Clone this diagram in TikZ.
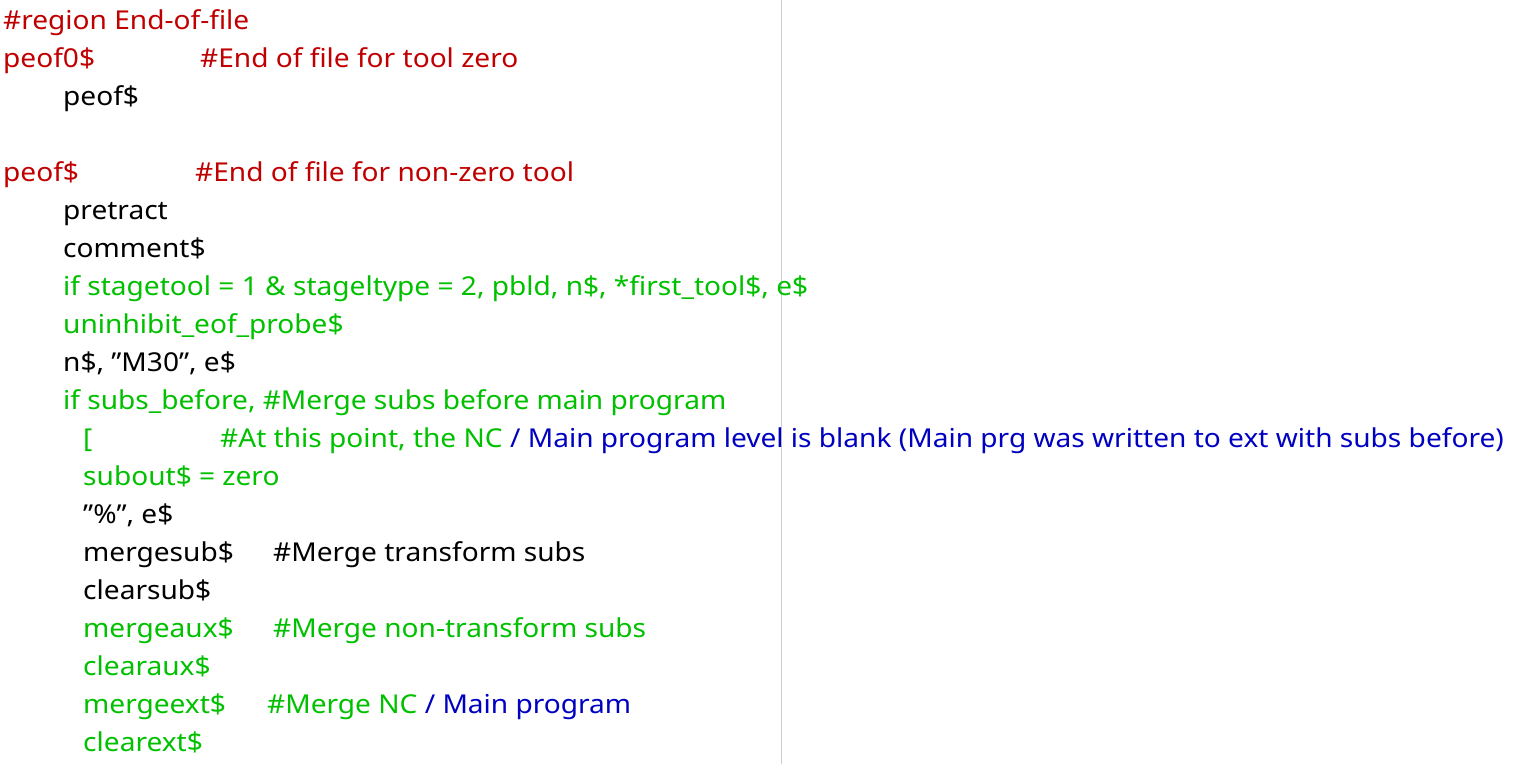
\documentclass[tikz,border=0pt]{standalone}
\usepackage{fontspec}
\setmainfont[FakeStretch=1.08]{Noto Sans}
\definecolor{cred}{RGB}{192,0,0}
\definecolor{cgreen}{RGB}{0,192,0}
\definecolor{cblue}{RGB}{0,0,192}
\newcommand{\dq}{\symbol{34}}
\begin{document}
\begin{tikzpicture}[x=1pt,y=-1pt,
  code/.style={anchor=base west,inner sep=0pt,font=\fontsize{26}{30}\selectfont}]
\useasboundingbox (0,0) rectangle (1525,764);
\draw[black!20,line width=1pt] (781,0) -- (781,764);
\node[code,cred] (l1) at (3,29) {\#region End-of-file};
\node[code,cred] (l2) at (3,67) {peof0\$};
\node[code,cred] (l2c) at (200,67) {\#End of file for tool zero};
\node[code] (l3) at (63,105) {peof\$};
\node[code,cred] (l5) at (3,181) {peof\$};
\node[code,cred] (l5c) at (195,181) {\#End of file for non-zero tool};
\node[code] (l6) at (63,219) {pretract};
\node[code] (l7) at (63,257) {comment\$};
\node[code,cgreen] (l8) at (63,295) {if stagetool = 1 \& stageltype = 2, pbld, n\$, *first\_tool\$, e\$};
\node[code,cgreen] (l9) at (63,333) {uninhibit\_eof\_probe\$};
\node[code] (l10) at (63,371) {n\$, \dq M30\dq, e\$};
\node[code,cgreen] (l11) at (63,409) {if subs\_before, \#Merge subs before main program};
\node[code,cgreen] (l12) at (83,447) {[};
\node[code,cgreen] (l12c) at (220,447) {\#At this point, the NC \textcolor{cblue}{/ Main program level is blank (Main prg was written to ext with subs before)}};
\node[code,cgreen] (l13) at (83,485) {subout\$ = zero};
\node[code] (l14) at (83,523) {\dq\%\dq, e\$};
\node[code] (l15) at (83,561) {mergesub\$};
\node[code] (l15c) at (273,561) {\#Merge transform subs};
\node[code] (l16) at (83,599) {clearsub\$};
\node[code,cgreen] (l17) at (83,637) {mergeaux\$};
\node[code,cgreen] (l17c) at (273,637) {\#Merge non-transform subs};
\node[code,cgreen] (l18) at (83,675) {clearaux\$};
\node[code,cgreen] (l19) at (83,713) {mergeext\$};
\node[code,cgreen] (l19c) at (267,713) {\#Merge NC \textcolor{cblue}{/ Main program}};
\node[code,cgreen] (l20) at (83,751) {clearext\$};
\end{tikzpicture}
\end{document}
